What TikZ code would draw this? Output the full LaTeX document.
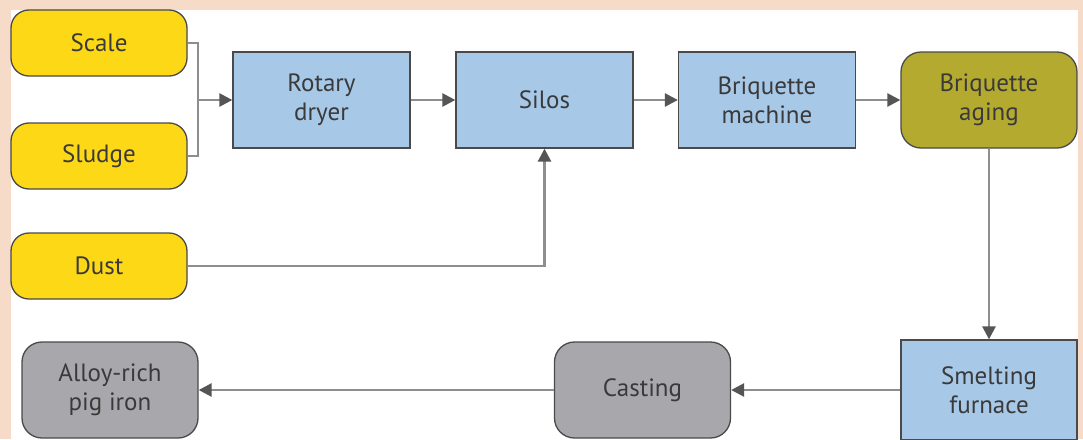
\documentclass[tikz,border=0pt]{standalone}
\usepackage{fontspec}
\setmainfont{PT Sans}
\usepackage{tikz}
\usetikzlibrary{positioning,arrows.meta}
\definecolor{Peach}{HTML}{F6DCC8}
\definecolor{RawYellow}{HTML}{FDD817}
\definecolor{ProcessBlue}{HTML}{A7C8E7}
\definecolor{AgingOlive}{HTML}{B5AA30}
\definecolor{ProductGrey}{HTML}{A8A8AC}
\definecolor{EdgeGrey}{HTML}{4A4A4A}
\definecolor{LineGrey}{HTML}{8E8E8E}
\definecolor{TipGrey}{HTML}{555555}
\definecolor{TextGrey}{HTML}{3A3A3A}
\tikzset{%
	box/.style={
		rectangle,
		draw=EdgeGrey,
		line width=1.3pt,
		text=TextGrey,
		align=center,
		inner sep=0pt,
		font=\fontsize{25}{29}\selectfont
	},
	box-raw/.style={ fill=RawYellow, rounded corners=18pt, minimum width=176pt, minimum height=66pt },
	box-process/.style={ fill=ProcessBlue, minimum width=177pt, minimum height=96pt },
	box-aging/.style={ fill=AgingOlive, rounded corners=20pt, minimum width=176pt, minimum height=96pt },
	box-product/.style={ fill=ProductGrey, rounded corners=20pt, minimum width=176pt, minimum height=96pt },
	flow/.style={ draw=LineGrey, line width=2.6pt, -{Triangle[length=13pt,width=13pt,color=TipGrey]} },
	flow-line/.style={ draw=LineGrey, line width=2.6pt },
}

\begin{document}
\begin{tikzpicture}[x=1pt, y=-1pt]
% background
\useasboundingbox (0,0) rectangle (1083,439);
\fill[Peach] (0,0) rectangle (1083,439);
\fill[white] (11,10) rectangle (1078,439);

% boxes
\foreach \m/\y [count=\i] in {Scale/43, Sludge/156, Dust/266}
	\node[box, box-raw] (raw-\i) at (99,\y) {\m};
\foreach \m/\x [count=\i] in {{Rotary\\dryer}/321.5, Silos/544.5, {Briquette\\machine}/767}
	\node[box, box-process] (process-\i) at (\x,100) {\m};
\node[box, box-aging] (aging) at (989,100) {Briquette\\aging};
\node[box, box-process, minimum width=176pt, minimum height=100pt] (smelting) at (989,390) {Smelting\\furnace};
\node[box, box-product] (casting) at (642.5,390) {Casting};
\node[box, box-product] (pig-iron) at (110,390) {Alloy-rich\\pig iron};

% connections
\coordinate (merge) at (198,100);
\draw[flow-line] (raw-1.east) -| (merge);
\draw[flow-line] (raw-2.east) -| (merge);
\draw[flow] (merge) -- (process-1);
\foreach \i/\j in {1/2, 2/3}
	\draw[flow] (process-\i) -- (process-\j);
\draw[flow] (process-3) -- (aging);
\draw[flow] (raw-3.east) -| (process-2.south);
\draw[flow] (aging) -- (smelting);
\draw[flow] (smelting) -- (casting);
\draw[flow] (casting) -- (pig-iron);

\end{tikzpicture}
\end{document}
